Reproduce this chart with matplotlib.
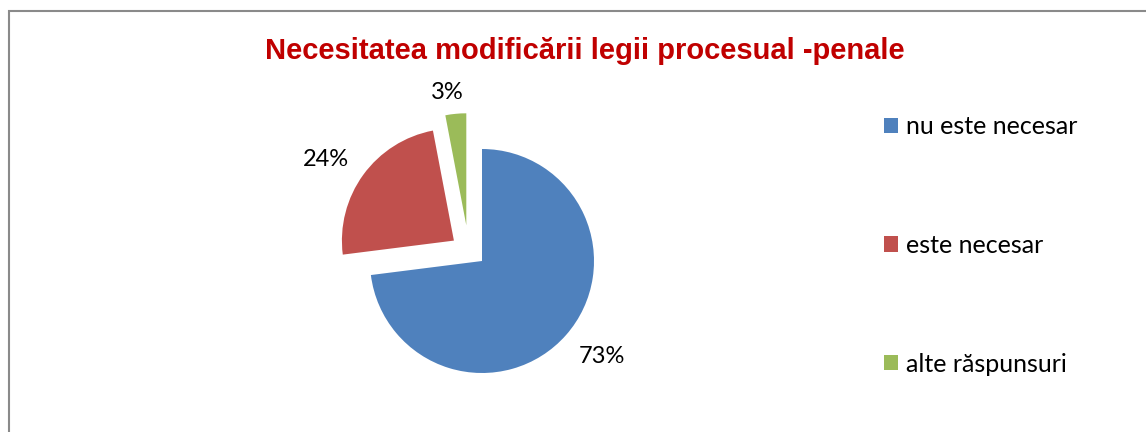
import numpy as np
import matplotlib.pyplot as plt
from matplotlib.patches import Rectangle

categorii = ['nu este necesar', 'este necesar', 'alte răspunsuri']
procente = [73, 24, 3]
culori = ['#4F81BD', '#C0504D', '#9BBB59']
explodare = [0, 0.31, 0.32]
titlu = 'Necesitatea modificării legii procesual -penale'

W, H = 1146, 432
fig = plt.figure(figsize=(W / 100, H / 100), dpi=100)

# chenar gri (doar sus si stanga se vad)
fig.patches.append(Rectangle((9 / W, -1), 2, 2 - 11 / H, transform=fig.transFigure,
                             fill=False, edgecolor='#8a8a8a', lw=1.5))

# axa pentru pie, centrul albastru la (482, 261) px, raza 112 px
S = 300
R = 112
ax = fig.add_axes([(482 - S / 2) / W, (H - 261 - S / 2) / H, S / W, S / H])
wedges, _ = ax.pie(procente, colors=culori, explode=explodare, startangle=90,
                   counterclock=False, radius=1, wedgeprops=dict(linewidth=0))
L = S / 2 / R
ax.set_xlim(-L, L)
ax.set_ylim(-L, L)
ax.set_aspect('equal')

# in Excel felia verde e impinsa putin mai la stanga
dx_extra = [0, 0, -0.11]
for w, e in zip(wedges, dx_extra):
    cx, cy = w.center
    w.set_center((cx + e, cy))

dist = [1.37, 1.35, 1.2]
tweak = [2.7, 3.5, 2.7]
for w, p, d, t in zip(wedges, procente, dist, tweak):
    th = np.deg2rad((w.theta1 + w.theta2) / 2 + t)
    cx, cy = w.center
    ax.text(cx + d * np.cos(th), cy + d * np.sin(th), f'{p}%', ha='center', va='center',
            fontsize=17, family='Lato', color='black')

fig.text(585 / W, 1 - 59 / H, titlu, ha='center', va='baseline', fontsize=21,
         weight='bold', color='#C00000', family='Liberation Sans')

fig.legend(wedges, categorii, loc='upper left', bbox_to_anchor=(884 / W, 1 - 115 / H),
           frameon=False, prop={'family': 'Lato', 'size': 18}, handlelength=0.56,
           handleheight=0.56, handletextpad=0.3, labelspacing=3.83, borderpad=0,
           borderaxespad=0)

fig.savefig('out.png', dpi=100)
